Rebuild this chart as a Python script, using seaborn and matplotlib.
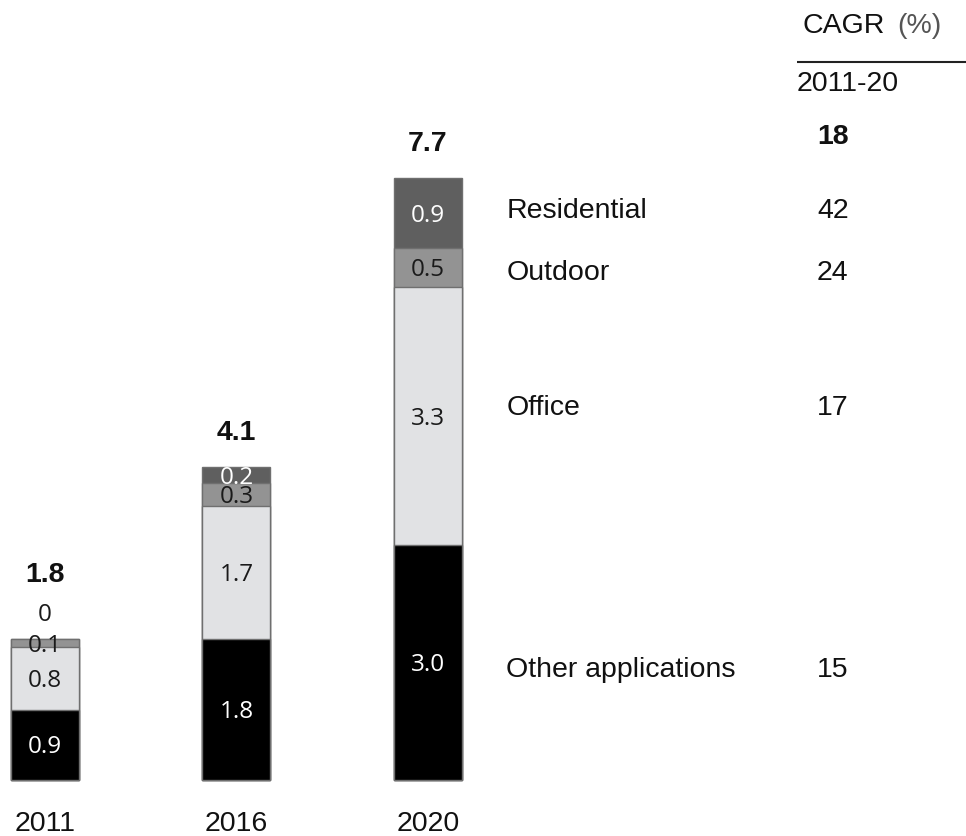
import matplotlib
matplotlib.use("Agg")
import matplotlib.pyplot as plt
import seaborn as sns
import pandas as pd
import numpy as np

# ---- data -------------------------------------------------------------
years = ["2011", "2016", "2020"]
segments = ["Other applications", "Office", "Outdoor", "Residential"]  # bottom -> top
other_applications = [0.9, 1.8, 3.0]
office = [0.8, 1.7, 3.3]
outdoor = [0.1, 0.3, 0.5]
residential = [0.0, 0.2, 0.9]
totals = [1.8, 4.1, 7.7]
cagr_total = 18
cagr = [15, 17, 24, 42]  # same order as segments

values = [other_applications, office, outdoor, residential]

# ---- style ------------------------------------------------------------
sns.set_theme(style="white")
plt.rcParams["font.family"] = ["Liberation Sans", "DejaVu Sans"]

seg_colors = ["#000000", "#e1e2e4", "#939393", "#5f5f5f"]
seg_text = ["white", "#1a1a1a", "#1a1a1a", "white"]
edge = "#6f6f6f"
num_font = ["Open Sans", "DejaVu Sans"]
fs = 20.5
num_fs = 17.5

fig = plt.figure(figsize=(9.66, 8.37), dpi=100)
ax = fig.add_axes([0, 0, 1, 1])

df = pd.DataFrame({"year": years})
for name, vals in zip(segments, values):
    df[name] = vals
cum = df[segments].cumsum(axis=1)

# stacked bars: draw cumulative heights from the top segment down
for i in range(len(segments) - 1, -1, -1):
    sns.barplot(x=df["year"], y=cum[segments[i]], order=years, color=seg_colors[i],
                width=0.355, edgecolor=edge, linewidth=1.0, errorbar=None,
                saturation=1, ax=ax)

# values inside segments
for j, yr in enumerate(years):
    base = 0.0
    for i, name in enumerate(segments):
        v = values[i][j]
        if v > 0:
            ax.text(j, base + v / 2 - 0.02, f"{v:.1f}", ha="center", va="center",
                    fontsize=num_fs, color=seg_text[i], family=num_font)
        else:
            ax.text(j, base + 0.32, "0", ha="center", va="center",
                    fontsize=num_fs, color="#1a1a1a", family=num_font)
        base += v
    top = base
    extra = 0.38 if min(values[i][j] for i in range(len(segments))) == 0 else 0.0
    ax.text(j, top + 0.45 + extra, f"{totals[j]:.1f}", ha="center", va="center",
            fontsize=fs, fontweight="bold", color="#111111")
    ax.text(j, -0.55, yr, ha="center", va="center", fontsize=fs, color="#111111")

# segment names and growth rates next to the last bar
nudge = [-0.08, 0.12, -0.06, 0.04]
label_x = 2.41
cagr_x = 4.115
base = 0.0
for i, name in enumerate(segments):
    v = values[i][-1]
    yc = base + v / 2 + nudge[i]
    ax.text(label_x, yc, name, ha="left", va="center", fontsize=fs, color="#111111")
    ax.text(cagr_x, yc, str(cagr[i]), ha="center", va="center",
            fontsize=fs, color="#111111")
    base += v

# CAGR header
ax.text(3.955, 9.66, "CAGR", ha="left", va="center", fontsize=fs, color="#111111")
ax.text(4.452, 9.66, "(%)", ha="left", va="center", fontsize=fs, color="#555555")
ax.plot([3.925, 4.85], [9.18, 9.18], color="#222222", lw=1.5, solid_capstyle="butt")
ax.text(3.925, 8.91, "2011-20", ha="left", va="center", fontsize=fs, color="#111111")
ax.text(cagr_x, 8.24, str(cagr_total), ha="center", va="center", fontsize=fs,
        fontweight="bold", color="#111111")

ax.set_xlim(-0.235, 4.81)
ax.set_ylim(-0.716, 9.987)
ax.axis("off")

fig.savefig("out.png", dpi=100, facecolor="white")
